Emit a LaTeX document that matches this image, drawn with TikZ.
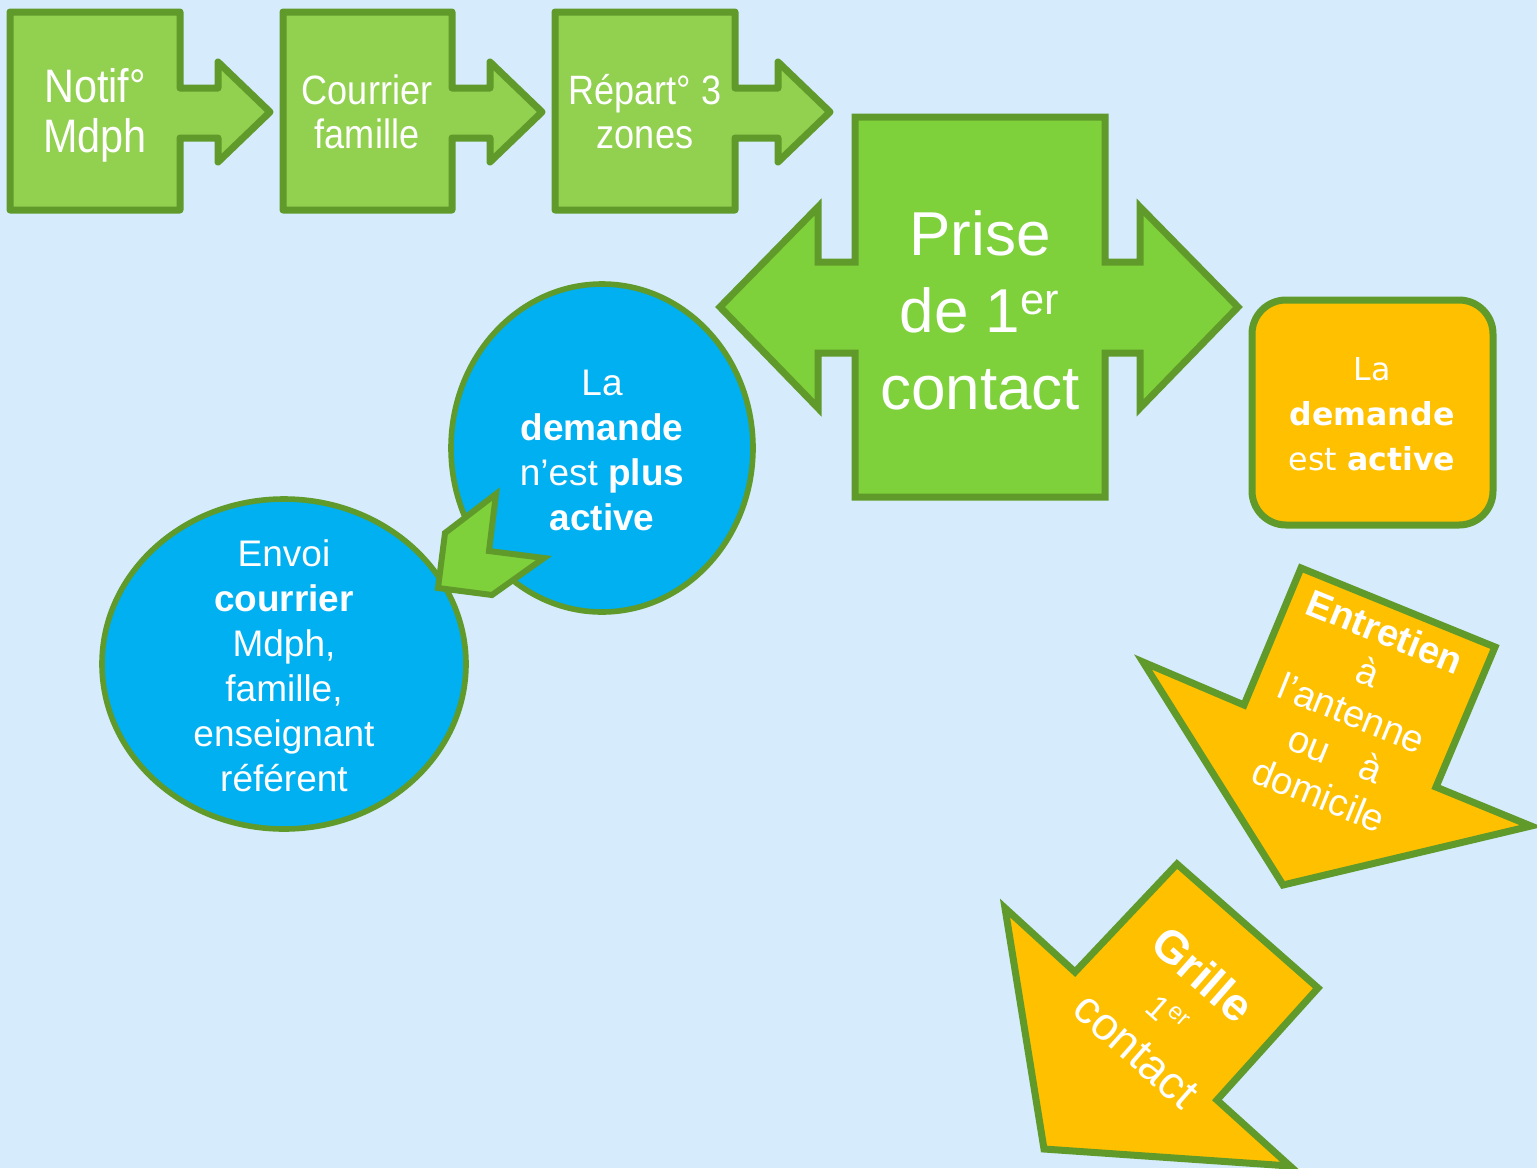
\documentclass[tikz,border=0pt]{standalone}
\usepackage{fontspec}
\setmainfont{Liberation Sans}
\newfontfamily\narrowsans[FakeStretch=0.88]{Liberation Sans}
\newfontfamily\tahoma{DejaVu Sans}
\usepackage{tikz}
\definecolor{bgblue}{RGB}{214,235,252}
\definecolor{edgegreen}{RGB}{95,154,42}
\definecolor{lightgreen}{RGB}{146,208,80}
\definecolor{midgreen}{RGB}{127,209,59}
\definecolor{skyblue}{RGB}{0,176,240}
\definecolor{amber}{RGB}{255,192,0}

\tikzset{
    shape edge/.style={draw=edgegreen, line width=3.5pt},
    label text/.style={text=white, align=center, inner sep=0pt},
}

\begin{document}
\begin{tikzpicture}[x=0.5pt, y=-0.5pt]
        \fill[bgblue] (0,0) rectangle (1537,1168);
        \useasboundingbox (0,0) rectangle (1537,1168);

        \filldraw[shape edge, fill=lightgreen, line join=round] (10,12) -- (180,12) -- (180,88) -- (218,88) -- (218,62) -- (270,112) -- (218,162) -- (218,138) -- (180,138) -- (180,210) -- (10,210) -- cycle;
        \node[label text, font=\narrowsans\fontsize{23.5}{25}\selectfont] (notif) at (95,115) {Notif°\\Mdph};

        \filldraw[shape edge, fill=lightgreen, line join=round] (283,12) -- (452,12) -- (452,88) -- (490,88) -- (490,62) -- (542,112) -- (490,162) -- (490,138) -- (452,138) -- (452,210) -- (283,210) -- cycle;
        \node[label text, font=\narrowsans\fontsize{20.5}{22}\selectfont] (courrier) at (367,112) {Courrier\\famille};

        \filldraw[shape edge, fill=lightgreen, line join=round] (555,12) -- (735,12) -- (735,88) -- (778,88) -- (778,62) -- (830,112) -- (778,162) -- (778,138) -- (735,138) -- (735,210) -- (555,210) -- cycle;
        \node[label text, font=\narrowsans\fontsize{20.5}{22}\selectfont] (repart) at (645,112) {Répart° 3\\zones};

        \filldraw[shape edge, fill=midgreen] (855,117) -- (1105,117) -- (1105,262) -- (1140,262) -- (1140,207) -- (1238,307) -- (1140,408) -- (1140,353) -- (1105,353) -- (1105,497) -- (855,497) -- (855,353) -- (818,353) -- (818,408) -- (720,307) -- (818,207) -- (818,262) -- (855,262) -- cycle;
        \node[label text, font=\fontsize{31}{38.5}\selectfont] (prise) at (980,310) {Prise\\de 1\textsuperscript{er}\\contact};

        \filldraw[draw=edgegreen, line width=2.8pt, fill=skyblue] (602,448) ellipse [x radius=151, y radius=164];
        \node[label text, font=\fontsize{18.5}{22.5}\selectfont] (inactive) at (602,450) {La\\\textbf{demande}\\n’est \textbf{plus}\\\textbf{active}};

        \filldraw[draw=edgegreen, line width=2.8pt, fill=skyblue] (284,664) ellipse [x radius=182, y radius=165];
        \node[label text, font=\fontsize{18.5}{22.5}\selectfont] (envoi) at (284,666) {Envoi\\\textbf{courrier}\\Mdph,\\famille,\\enseignant\\référent};

        \filldraw[shape edge, fill=midgreen, line width=3pt] (438,588) -- (445,533) -- (496,494) -- (489,551) -- (544,558) -- (492,595) -- cycle;

        \filldraw[shape edge, fill=amber, rounded corners=17pt] (1252,300) rectangle (1493,525);
        \node[label text, font=\tahoma\fontsize{15.8}{22.5}\selectfont] (active) at (1372,414) {La\\\textbf{demande}\\est \textbf{active}};

        \filldraw[shape edge, fill=amber] (1301,568) -- (1495,647) -- (1436,787) -- (1531,826) -- (1283,885) -- (1143,662) -- (1244,705) -- cycle;
        \node[label text, rotate=-22, font=\fontsize{19}{22}\selectfont] (entretien) at (1352,713) {\textbf{Entretien}\\à\\l’antenne\\ou\hspace{0.9em}à\\domicile};

        \filldraw[shape edge, fill=amber] (1177,864) -- (1318,988) -- (1217,1100) -- (1290,1166) -- (1044,1149) -- (1005,908) -- (1075,972) -- cycle;
        \node[label text, rotate=-41.4, font=\fontsize{23}{25}\selectfont] (grille) at (1170,1012) {\textbf{Grille}\\{\fontsize{17}{20}\selectfont 1\textsuperscript{er}}\\contact};
\end{tikzpicture}
\end{document}
